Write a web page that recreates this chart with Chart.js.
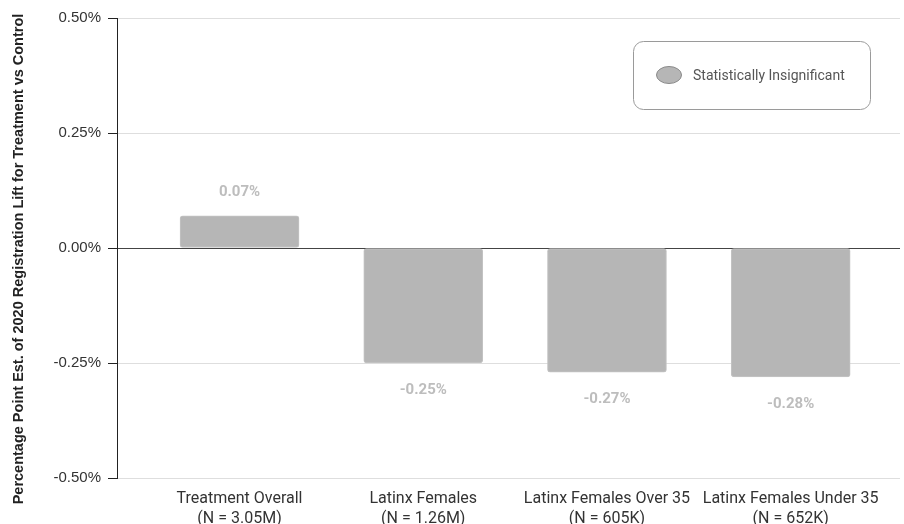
<!DOCTYPE html>
<html>
<head>
<meta charset="utf-8">
<script src="https://cdn.jsdelivr.net/npm/chart.js@4/dist/chart.umd.min.js"></script>
<style>
  html, body { margin: 0; padding: 0; background: #fff; }
  #wrap { width: 904px; height: 524px; }
</style>
</head>
<body>
<div id="wrap"><canvas id="c" width="904" height="524"></canvas></div>
<script>
// Registration lift estimates (percentage points) per group
const categories = [
  ["Treatment Overall", "(N = 3.05M)"],
  ["Latinx Females", "(N = 1.26M)"],
  ["Latinx Females Over 35", "(N = 605K)"],
  ["Latinx Females Under 35", "(N = 652K)"]
];
const liftValues = [0.07, -0.25, -0.27, -0.28];
const yTicks = [-0.5, -0.25, 0, 0.25, 0.5];
const seriesLabel = "Statistically Insignificant";
const yTitle = "Percentage Point Est. of 2020 Registration Lift for Treatment vs Control";

const BAR = "#b6b6b6";

// Value labels above/below each bar
const valueLabels = {
  id: "valueLabels",
  afterDatasetsDraw(chart) {
    const { ctx } = chart;
    const meta = chart.getDatasetMeta(0);
    ctx.save();
    ctx.font = "bold 15px Roboto";
    ctx.fillStyle = "#bdbdbd";
    ctx.textAlign = "center";
    ctx.textBaseline = "middle";
    meta.data.forEach((el, i) => {
      const v = liftValues[i];
      const y = v >= 0 ? el.y - 24 : el.y + 27;
      ctx.fillText(v.toFixed(2) + "%", el.x, y);
    });
    ctx.restore();
  }
};

// Vertical axis title, centred on the full canvas height
const sideTitle = {
  id: "sideTitle",
  afterDraw(chart) {
    const { ctx } = chart;
    ctx.save();
    ctx.translate(19, chart.height / 2 - 3);
    ctx.rotate(-Math.PI / 2);
    ctx.font = "bold 14.5px 'Liberation Sans'";
    ctx.fillStyle = "#222";
    ctx.textAlign = "center";
    ctx.textBaseline = "middle";
    ctx.fillText(yTitle, 0, 0);
    ctx.restore();
  }
};

// Boxed legend in the top-right corner of the plot
const boxedLegend = {
  id: "boxedLegend",
  afterDraw(chart) {
    const { ctx } = chart;
    const x = 633, y = 41, w = 237, h = 68, r = 10;
    ctx.save();
    ctx.beginPath();
    ctx.roundRect(x + 0.5, y + 0.5, w, h, r);
    ctx.fillStyle = "#fff";
    ctx.fill();
    ctx.strokeStyle = "#9a9a9a";
    ctx.lineWidth = 1;
    ctx.stroke();
    ctx.beginPath();
    ctx.ellipse(x + 36, y + 34, 12.5, 8.5, 0, 0, Math.PI * 2);
    ctx.fillStyle = BAR;
    ctx.fill();
    ctx.strokeStyle = "#8a8a8a";
    ctx.stroke();
    ctx.font = "14px Roboto";
    ctx.fillStyle = "#555";
    ctx.textAlign = "left";
    ctx.textBaseline = "middle";
    ctx.fillText(chart.data.datasets[0].label, x + 60, y + 35);
    ctx.restore();
  }
};

new Chart(document.getElementById("c"), {
  type: "bar",
  data: {
    datasets: [{
      label: seriesLabel,
      data: liftValues.map((v, i) => ({ x: i, y: v })),
      backgroundColor: BAR,
      borderColor: "#c4c4c4",
      borderWidth: 1,
      borderRadius: 3,
      borderSkipped: false,
      barThickness: 119
    }]
  },
  options: {
    responsive: false,
    animation: false,
    devicePixelRatio: 1,
    layout: { padding: { top: 18, right: 4, bottom: 0, left: 0 } },
    plugins: { legend: { display: false }, tooltip: { enabled: false } },
    scales: {
      x: {
        type: "linear",
        offset: false,
        min: -0.667,
        max: 3.595,
        afterBuildTicks: s => { s.ticks = categories.map((_, i) => ({ value: i })); },
        afterFit: s => { s.height = 46; },
        grid: { display: false },
        border: { display: false },
        ticks: {
          autoSkip: false,
          maxRotation: 0,
          padding: 3,
          color: "#333",
          font: { family: "Roboto", size: 16, lineHeight: 1.25 },
          callback: v => categories[v]
        }
      },
      y: {
        min: -0.5,
        max: 0.5,
        afterBuildTicks: s => { s.ticks = yTicks.map(v => ({ value: v })); },
        afterFit: s => { s.width = 117; },
        border: { display: true, color: "#222", width: 1 },
        grid: {
          color: c => (c.tick && c.tick.value === 0 ? "#444" : "#dedede"),
          tickColor: "#222",
          tickLength: 9
        },
        ticks: {
          padding: 7,
          color: "#333",
          font: { family: "Liberation Sans", size: 15 },
          callback: v => v.toFixed(2) + "%"
        }
      }
    }
  },
  plugins: [valueLabels, sideTitle, boxedLegend]
});
</script>
</body>
</html>
